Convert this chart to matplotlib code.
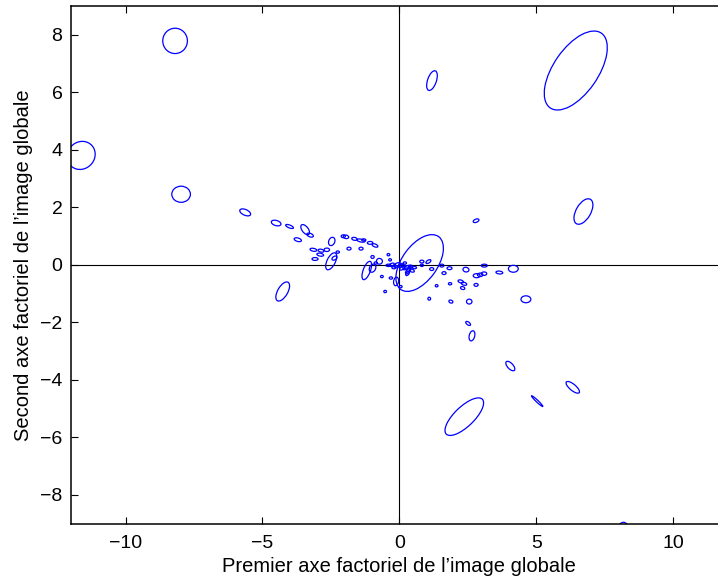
import matplotlib
matplotlib.use("Agg")
import matplotlib.pyplot as plt
from matplotlib.patches import Ellipse

plt.rcParams['font.family'] = ['Liberation Sans', 'DejaVu Sans']

# Ellipse centres (x, y), full widths, heights (data units) and angles (degrees)
cx = [6.44, -8.19, -11.62, -7.97, 1.19, 2.80, 6.72, 0.74, -4.26,
      2.51, 2.65, 4.05, 6.33, 5.03, 2.37, 8.18,
      -5.63, -4.50, -4.01, -3.44, -3.26, -3.71, -2.47, -2.05, -1.95, -1.64, -1.40, -1.30,
      -1.07, -0.89, -3.14, -2.86, -2.65, -2.89, -3.08, -2.25, -1.84, -1.40,
      -2.49, -2.37, -0.98, -1.19, -0.98, -0.73, -0.86,
      -0.34, -0.40, -0.64, -0.31, -0.12, -0.52, 0.05,
      -0.40, -0.28, -0.15, -0.05, 0.05, 0.15, 0.25, 0.35, 0.45, 0.30, 0.40, 0.55, 0.20, -0.20, 0.10, 0.32,
      0.82, 1.06, 0.82, 1.18, 1.55, 1.83, 1.63, 2.43, 3.10, 2.82, 2.95, 3.09, 3.65, 4.16,
      1.36, 1.85, 2.24, 2.36, 2.31, 2.80, 1.09, 1.88, 2.55, 4.62]
cy = [6.75, 7.78, 3.80, 2.45, 6.40, 1.53, 1.85, 0.06, -0.93,
      -2.04, -2.47, -3.52, -4.26, -4.74, -5.28, -9.10,
      1.82, 1.45, 1.33, 1.22, 1.03, 0.87, 0.81, 0.99, 0.97, 0.90, 0.84, 0.86,
      0.76, 0.67, 0.52, 0.49, 0.52, 0.35, 0.20, 0.44, 0.56, 0.56,
      0.12, 0.23, 0.27, -0.20, -0.12, 0.12, 0.06,
      0.17, 0.35, -0.41, -0.46, -0.58, -0.93, -0.76,
      -0.02, 0.00, -0.05, 0.02, -0.03, -0.06, -0.10, -0.15, -0.20, -0.30, -0.05, -0.10, 0.06, -0.10, -0.12, -0.22,
      0.11, 0.11, -0.02, -0.15, -0.03, -0.12, -0.29, -0.17, -0.03, -0.38, -0.35, -0.31, -0.27, -0.14,
      -0.73, -0.66, -0.58, -0.66, -0.81, -0.70, -1.18, -1.28, -1.28, -1.20]
widths = [3.20, 0.90, 1.05, 0.68, 0.72, 0.22, 0.99, 2.30, 0.75,
          0.20, 0.36, 0.42, 0.60, 0.55, 1.79, 0.30,
          0.42, 0.36, 0.30, 0.42, 0.25, 0.27, 0.30, 0.15, 0.20, 0.20, 0.30, 0.15,
          0.20, 0.22, 0.25, 0.22, 0.20, 0.25, 0.22, 0.12, 0.15, 0.15,
          0.65, 0.20, 0.12, 0.68, 0.30, 0.22, 0.12,
          0.10, 0.10, 0.10, 0.12, 0.30, 0.10, 0.10,
          0.18, 0.20, 0.15, 0.22, 0.18, 0.20, 0.25, 0.22, 0.20, 0.18, 0.15, 0.15, 0.12, 0.15, 0.20, 0.25,
          0.15, 0.20, 0.12, 0.15, 0.15, 0.18, 0.15, 0.22, 0.22, 0.25, 0.20, 0.20, 0.25, 0.36,
          0.10, 0.12, 0.20, 0.20, 0.16, 0.15, 0.10, 0.15, 0.20, 0.36]
heights = [1.61, 0.88, 0.95, 0.56, 0.32, 0.11, 0.53, 1.27, 0.36,
           0.10, 0.20, 0.20, 0.22, 0.07, 0.70, 0.30,
           0.20, 0.18, 0.10, 0.22, 0.12, 0.12, 0.22, 0.10, 0.12, 0.10, 0.10, 0.08,
           0.10, 0.10, 0.10, 0.10, 0.12, 0.10, 0.10, 0.08, 0.10, 0.10,
           0.30, 0.12, 0.10, 0.26, 0.22, 0.20, 0.08,
           0.08, 0.08, 0.08, 0.08, 0.18, 0.08, 0.08,
           0.08, 0.10, 0.08, 0.10, 0.08, 0.12, 0.10, 0.12, 0.10, 0.10, 0.08, 0.08, 0.08, 0.08, 0.10, 0.12,
           0.10, 0.10, 0.08, 0.10, 0.10, 0.10, 0.10, 0.16, 0.10, 0.14, 0.12, 0.12, 0.10, 0.24,
           0.08, 0.08, 0.10, 0.10, 0.10, 0.10, 0.10, 0.10, 0.17, 0.24]
angles = [53.5, 0, 30, 0, 70, 20, 58, 52, 58,
          -35, 75, -45, -38, -42, 42, 0,
          -22, -15, -20, -50, -20, -15, 65, 0, -10, -10, -10, 0,
          0, -20, -10, -10, 0, -10, 0, 0, 0, 0,
          62, 30, 0, 68, 60, 0, 0,
          0, 0, 0, 0, 80, 0, 0,
          0, 20, -20, 10, 40, -30, 30, 60, -20, 50, 0, 0, 0, 0, 30, 45,
          0, 30, 0, 0, 0, 0, 0, -10, 0, 0, 0, 0, -5, 0,
          0, 0, -15, -15, -15, 0, 0, -20, 0, 0]

x_ticks = [-10, -5, 0, 5, 10]
y_ticks = [-8, -6, -4, -2, 0, 2, 4, 6, 8]
x_label = "Premier axe factoriel de l’image globale"
y_label = "Second axe factoriel de l’image globale"

fig = plt.figure(figsize=(7.18, 5.79), dpi=100)
ax = fig.add_axes([0.0985, 0.0955, 0.9155, 0.8945])

for x, y, w, h, a in zip(cx, cy, widths, heights, angles):
    ax.add_patch(Ellipse((x, y), w, h, angle=a, fill=False,
                         edgecolor='#0000ff', linewidth=0.9))

ax.axhline(0, color='black', linewidth=0.8, zorder=0.5)
ax.axvline(0, color='black', linewidth=0.8, zorder=0.5)

ax.set_xlim(-12, 12)
ax.set_ylim(-9, 9)
ax.set_xticks(x_ticks)
ax.set_yticks(y_ticks)
ax.tick_params(direction='in', top=True, right=True, length=5, width=0.8,
               labelsize=14, pad=6)
ax.tick_params(axis='x', pad=8)
for s in ax.spines.values():
    s.set_linewidth(1.1)
ax.set_xlabel(x_label, fontsize=14.5, labelpad=4)
ax.set_ylabel(y_label, fontsize=14.5, labelpad=5)

fig.savefig("out.png", dpi=100)
